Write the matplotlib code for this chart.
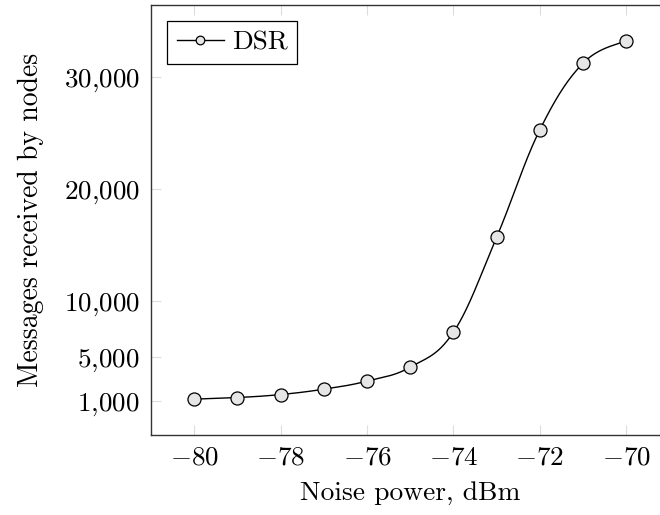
import matplotlib.pyplot as plt
import numpy as np
from matplotlib.ticker import FixedLocator, FixedFormatter

plt.rcParams['font.family'] = 'cmr10'
plt.rcParams['mathtext.fontset'] = 'cm'
plt.rcParams['axes.formatter.use_mathtext'] = True

# noise power (dBm) vs messages received
noise = np.array([-80, -79, -78, -77, -76, -75, -74, -73, -72, -71, -70])
dsr = np.array([1210, 1350, 1620, 2100, 2820, 4070, 7200, 15700, 25300, 31250, 33270])

xticks = [-80, -78, -76, -74, -72, -70]
xlabels = [r'$-80$', r'$-78$', r'$-76$', r'$-74$', r'$-72$', r'$-70$']
yticks = [1000, 5000, 10000, 20000, 30000]
ylabels = [r'$1{,}000$', r'$5{,}000$', r'$10{,}000$', r'$20{,}000$', r'$30{,}000$']


def smooth(x, y, tension=0.55, n=30):
    # cardinal spline through the points, like pgfplots "smooth"
    px, py = [], []
    k = tension / 3.0 * 2
    for i in range(len(x) - 1):
        x0, y0 = x[max(i - 1, 0)], y[max(i - 1, 0)]
        x1, y1 = x[i], y[i]
        x2, y2 = x[i + 1], y[i + 1]
        x3, y3 = x[min(i + 2, len(x) - 1)], y[min(i + 2, len(x) - 1)]
        c1x = x1 + (x2 - x0) * k / 2
        c1y = y1 + (y2 - y0) * k / 2
        c2x = x2 - (x3 - x1) * k / 2
        c2y = y2 - (y3 - y1) * k / 2
        t = np.linspace(0, 1, n)
        bx = (1-t)**3*x1 + 3*(1-t)**2*t*c1x + 3*(1-t)*t**2*c2x + t**3*x2
        by = (1-t)**3*y1 + 3*(1-t)**2*t*c1y + 3*(1-t)*t**2*c2y + t**3*y2
        px.extend(bx)
        py.extend(by)
    return np.array(px), np.array(py)


fig = plt.figure(figsize=(6.6, 5.15), dpi=100)
ax = fig.add_axes([151/660, 80/515, 518.5/660, 430.3/515])

sx, sy = smooth(noise.astype(float), dsr.astype(float))
ax.plot(sx, sy, color='black', lw=1.0, zorder=2)
ax.plot(noise, dsr, linestyle='none', marker='o', ms=9.4, mfc='#e6e6e6',
        mec='black', mew=0.9, zorder=3)
# legend proxy, smaller marker as in pgfplots legends
ax.plot([], [], color='black', lw=1.0, marker='o', ms=6.2, mfc='#e6e6e6',
        mec='black', mew=0.9, label='DSR')

rng = dsr.max() - dsr.min()
ax.set_xlim(-81, -69)
ax.set_ylim(dsr.min() - 0.1 * rng, dsr.max() + 0.1 * rng)

ax.xaxis.set_major_locator(FixedLocator(xticks))
ax.xaxis.set_major_formatter(FixedFormatter(xlabels))
ax.yaxis.set_major_locator(FixedLocator(yticks))
ax.yaxis.set_major_formatter(FixedFormatter(ylabels))
ax.tick_params(direction='in', length=7, width=0.8, color='#dddddd',
               top=True, right=True, labelsize=19.5, pad=8)

for s in ax.spines.values():
    s.set_color('#333333')
    s.set_linewidth(1.0)

ax.set_xlabel('Noise power, dBm', fontsize=19.8, labelpad=8)
ax.set_ylabel('Messages received by nodes', fontsize=20, labelpad=14)

leg = ax.legend(loc='upper left', fontsize=19.5, frameon=True, fancybox=False,
                edgecolor='black', framealpha=1, handlelength=1.75,
                handletextpad=0.3, borderpad=0.35, borderaxespad=0.6)
leg.get_frame().set_linewidth(0.9)

fig.savefig('out.png', dpi=100)
